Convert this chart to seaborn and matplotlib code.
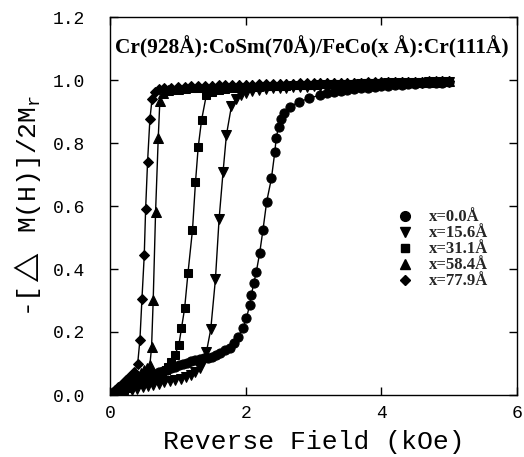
import matplotlib
matplotlib.use("Agg")
import matplotlib.pyplot as plt
import seaborn as sns
from matplotlib.lines import Line2D

# ---------------- data ----------------
# x = 0.0 Å  (circles)
field_00 = [0.00, 0.06, 0.12, 0.18, 0.24, 0.30, 0.36, 0.42, 0.48, 0.54, 0.60, 0.66, 0.72,
            0.78, 0.84, 0.90, 0.96, 1.02, 1.08, 1.14, 1.20, 1.26, 1.32, 1.38, 1.44,
            1.50, 1.56, 1.62, 1.69, 1.765,
            1.83, 1.887, 1.96, 2.01, 2.06, 2.084, 2.118, 2.157, 2.206, 2.255, 2.31,
            2.38, 2.43, 2.45, 2.485, 2.525, 2.57, 2.65, 2.79, 2.94, 3.09,
            3.2, 3.3, 3.4, 3.5, 3.6, 3.7, 3.8, 3.9, 4.0, 4.1, 4.2, 4.3, 4.4, 4.5,
            4.6, 4.7, 4.8, 4.9, 5.0]
mag_00 = [0.000, 0.008, 0.016, 0.024, 0.031, 0.038, 0.044, 0.050, 0.055, 0.060, 0.064, 0.068, 0.072,
          0.076, 0.080, 0.085, 0.090, 0.095, 0.099, 0.103, 0.107, 0.110, 0.113, 0.116, 0.119,
          0.122, 0.126, 0.132, 0.142, 0.150,
          0.165, 0.185, 0.212, 0.243, 0.286, 0.317, 0.354, 0.391, 0.450, 0.524, 0.614,
          0.688, 0.772, 0.815, 0.852, 0.875, 0.894, 0.915, 0.931, 0.942, 0.952,
          0.958, 0.962, 0.966, 0.969, 0.972, 0.974, 0.976, 0.978, 0.980, 0.982, 0.983,
          0.985, 0.986, 0.987, 0.989, 0.990, 0.991, 0.992, 0.994]

# x = 15.6 Å  (down triangles)
field_156 = [0.00, 0.08, 0.16, 0.24, 0.32, 0.40, 0.48, 0.56, 0.64, 0.72, 0.80, 0.88, 0.96,
             1.04, 1.12, 1.20, 1.26, 1.32, 1.37, 1.42,
             1.485, 1.554, 1.608, 1.667, 1.716, 1.79, 1.86, 1.93, 2.0, 2.1, 2.2,
             2.3, 2.4, 2.5, 2.6, 2.7, 2.8, 2.9, 3.0, 3.1, 3.2, 3.3, 3.4, 3.5, 3.6,
             3.7, 3.8, 3.9, 4.0, 4.1, 4.2, 4.3, 4.4, 4.5, 4.6, 4.7, 4.8, 4.9, 5.0]
mag_156 = [0.000, 0.004, 0.008, 0.012, 0.016, 0.020, 0.024, 0.028, 0.032, 0.036, 0.040, 0.044, 0.048,
           0.052, 0.057, 0.064, 0.072, 0.085, 0.108, 0.135,
           0.208, 0.367, 0.558, 0.709, 0.825, 0.917, 0.940, 0.953, 0.960, 0.965, 0.969,
           0.972, 0.974, 0.975, 0.976, 0.977, 0.978, 0.979, 0.980, 0.981, 0.982, 0.983,
           0.984, 0.984, 0.985, 0.986, 0.987, 0.987, 0.988, 0.989, 0.989, 0.990, 0.991,
           0.991, 0.992, 0.993, 0.993, 0.994, 0.995]

# x = 31.1 Å  (squares)
field_311 = [0.00, 0.07, 0.14, 0.21, 0.28, 0.35, 0.42, 0.49, 0.56, 0.63, 0.70, 0.76, 0.82, 0.86, 0.897,
             0.956, 1.015, 1.054, 1.10, 1.15, 1.216, 1.26, 1.30, 1.35, 1.42, 1.50, 1.60,
             1.7, 1.8, 1.9, 2.0, 2.1, 2.2, 2.3, 2.4, 2.5, 2.6, 2.7, 2.8, 2.9, 3.0, 3.1,
             3.2, 3.3, 3.4, 3.5, 3.6, 3.7, 3.8, 3.9, 4.0, 4.1, 4.2, 4.3, 4.4, 4.5, 4.6,
             4.7, 4.8, 4.9, 5.0]
mag_311 = [0.000, 0.005, 0.010, 0.016, 0.022, 0.028, 0.034, 0.040, 0.046, 0.052, 0.058, 0.066, 0.078, 0.090, 0.106,
           0.127, 0.159, 0.212, 0.275, 0.388, 0.524, 0.675, 0.786, 0.873, 0.952, 0.963, 0.969,
           0.972, 0.974, 0.976, 0.977, 0.978, 0.979, 0.980, 0.981, 0.982, 0.982, 0.983,
           0.984, 0.984, 0.985, 0.986, 0.986, 0.987, 0.987, 0.988, 0.988, 0.989, 0.989,
           0.990, 0.990, 0.991, 0.991, 0.992, 0.992, 0.993, 0.993, 0.994, 0.994, 0.995, 0.995]

# x = 58.4 Å  (up triangles)
field_584 = [0.00, 0.05, 0.10, 0.15, 0.20, 0.25, 0.30, 0.35, 0.40, 0.45, 0.50, 0.55, 0.588,
             0.613, 0.637, 0.672, 0.711, 0.735, 0.78, 0.85,
             0.9, 1.0, 1.1, 1.2, 1.3, 1.4, 1.5, 1.6, 1.7, 1.8, 1.9, 2.0, 2.1, 2.2, 2.3,
             2.4, 2.5, 2.6, 2.7, 2.8, 2.9, 3.0, 3.1, 3.2, 3.3, 3.4, 3.5, 3.6, 3.7, 3.8,
             3.9, 4.0, 4.1, 4.2, 4.3, 4.4, 4.5, 4.6, 4.7, 4.8, 4.9, 5.0]
mag_584 = [0.000, 0.009, 0.018, 0.026, 0.034, 0.042, 0.050, 0.057, 0.064, 0.071, 0.078, 0.085, 0.095,
           0.153, 0.302, 0.582, 0.815, 0.934, 0.958, 0.967,
           0.970, 0.973, 0.975, 0.977, 0.978, 0.979, 0.980, 0.981, 0.981, 0.982,
           0.983, 0.983, 0.984, 0.984, 0.985, 0.985, 0.986, 0.986, 0.987, 0.987,
           0.988, 0.988, 0.989, 0.989, 0.990, 0.990, 0.990, 0.991, 0.991, 0.992,
           0.992, 0.992, 0.993, 0.993, 0.994, 0.994, 0.994, 0.995, 0.995, 0.995,
           0.996, 0.996]

# x = 77.9 Å  (diamonds)
field_779 = [0.00, 0.04, 0.08, 0.12, 0.16, 0.20, 0.24, 0.28, 0.32, 0.36, 0.407,
             0.441, 0.471, 0.505, 0.525, 0.554, 0.588, 0.62, 0.66, 0.72,
             0.8, 0.9, 1.0, 1.1, 1.2, 1.3, 1.4, 1.5, 1.6, 1.7, 1.8, 1.9, 2.0, 2.1, 2.2,
             2.3, 2.4, 2.5, 2.6, 2.7, 2.8, 2.9, 3.0, 3.1, 3.2, 3.3, 3.4, 3.5, 3.6, 3.7,
             3.8, 3.9, 4.0, 4.1, 4.2, 4.3, 4.4, 4.5, 4.6, 4.7, 4.8, 4.9, 5.0]
mag_779 = [0.000, 0.008, 0.016, 0.024, 0.032, 0.040, 0.048, 0.056, 0.064, 0.074, 0.097,
           0.175, 0.305, 0.444, 0.589, 0.741, 0.875, 0.940, 0.962, 0.970,
           0.974, 0.976, 0.978, 0.979, 0.980, 0.981, 0.981, 0.982, 0.983, 0.983,
           0.984, 0.984, 0.985, 0.985, 0.986, 0.986, 0.987, 0.987, 0.988, 0.988,
           0.989, 0.989, 0.989, 0.990, 0.990, 0.991, 0.991, 0.991, 0.992, 0.992,
           0.993, 0.993, 0.993, 0.994, 0.994, 0.994, 0.995, 0.995, 0.995, 0.996,
           0.996, 0.996, 0.997]

series_labels = ["x=0.0Å", "x=15.6Å", "x=31.1Å", "x=58.4Å", "x=77.9Å"]
title_text = "Cr(928Å):CoSm(70Å)/FeCo(x Å):Cr(111Å)"
x_ticks = [0, 2, 4, 6]
y_ticks = [0.0, 0.2, 0.4, 0.6, 0.8, 1.0, 1.2]

# ---------------- style ----------------
sns.set_style("ticks")
plt.rcParams["mathtext.fontset"] = "custom"
plt.rcParams["mathtext.rm"] = "Liberation Mono"
plt.rcParams["mathtext.it"] = "Liberation Mono"
plt.rcParams["mathtext.fallback"] = "cm"

fig = plt.figure(figsize=(5.24, 4.57), dpi=100)
ax = fig.add_axes([110 / 524, 1 - 395 / 457, 407 / 524, 378 / 457])

series = [(field_00, mag_00, "o", 6.6),
          (field_156, mag_156, "v", 7.0),
          (field_311, mag_311, "s", 5.6),
          (field_584, mag_584, "^", 7.0),
          (field_779, mag_779, "D", 5.2)]

for (fx, my, mk, ms) in series:
    sns.lineplot(x=fx, y=my, ax=ax, color="black", linewidth=1.0,
                 marker=mk, markersize=ms, markeredgecolor="black",
                 markerfacecolor="black", sort=False, estimator=None)

ax.set_xlim(0, 6)
ax.set_ylim(0, 1.2)
ax.set_xticks(x_ticks)
ax.set_yticks(y_ticks)
ax.set_xticklabels([str(t) for t in x_ticks])
ax.set_yticklabels([f"{t:.1f}" for t in y_ticks])

mono = ["Liberation Mono", "DejaVu Sans Mono"]
for lab in ax.get_xticklabels() + ax.get_yticklabels():
    lab.set_family(mono)
    lab.set_fontsize(13)
    lab.set_color("black")

ax.tick_params(axis="both", direction="in", length=6, width=1, color="black",
               right=True, top=True)
ax.tick_params(axis="x", pad=7)
ax.tick_params(axis="y", pad=18)

for sp in ax.spines.values():
    sp.set_visible(True)
    sp.set_color("black")
    sp.set_linewidth(1.0)

ax.set_xlabel("Reverse Field (kOe)", family=mono, fontsize=19, color="black", labelpad=6)
ax.set_ylabel("-[$\\triangle$ M(H)]/2M$_\\mathrm{r}$", family=mono, fontsize=19,
              color="black", labelpad=7)

ax.text(0.495, 0.92, title_text, transform=ax.transAxes, ha="center", va="center",
        family="Liberation Serif", fontweight="bold", fontsize=15.4, color="black")

markers_leg = ["o", "v", "s", "^", "D"]
sizes_leg = [7, 7, 6, 7, 5.5]
handles = [Line2D([], [], linestyle="none", marker=m, markersize=s, color="black")
           for m, s in zip(markers_leg, sizes_leg)]
leg = ax.legend(handles, series_labels, loc="center left",
                bbox_to_anchor=(0.705, 0.385), frameon=False,
                prop={"family": "Liberation Serif", "weight": "bold", "size": 12},
                handlelength=1.0, handletextpad=0.9, labelspacing=0.0,
                borderaxespad=0, borderpad=0)

fig.savefig("out.png", dpi=100)
